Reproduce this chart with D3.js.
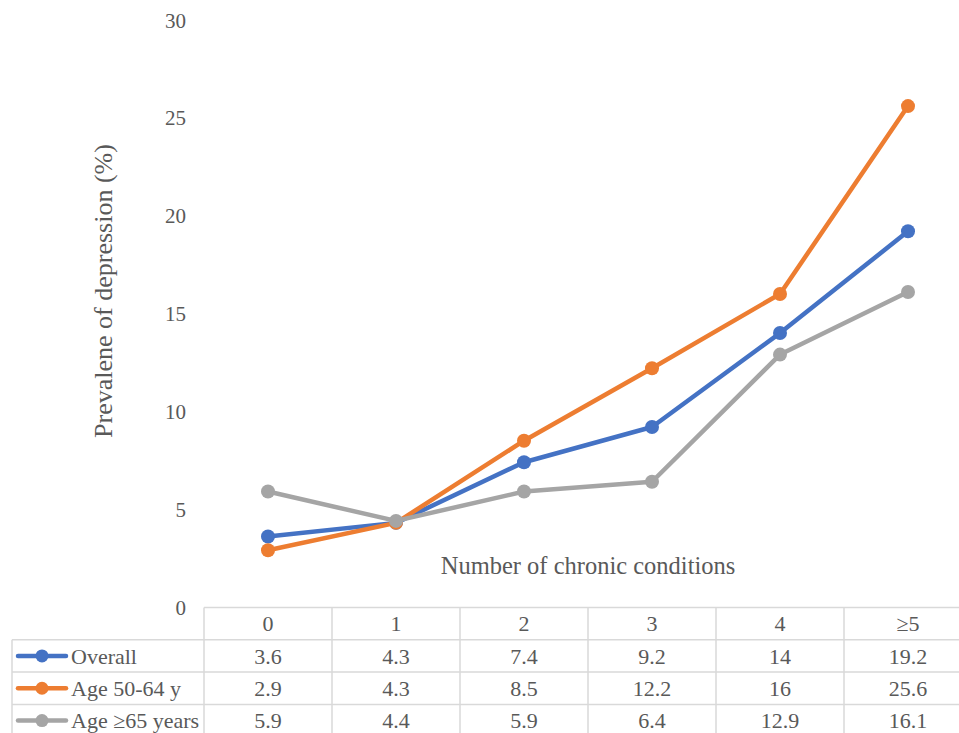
<!DOCTYPE html>
<html>
<head>
<meta charset="utf-8">
<script src="https://cdn.jsdelivr.net/npm/d3@7"></script>
<style>
  html, body { margin: 0; padding: 0; background: #fff; }
  svg { display: block; }
  .lbl { font-family: 'Liberation Serif', 'Times New Roman', serif; fill: #595959; }
</style>
</head>
<body>
<svg id="chart" width="959" height="733"></svg>
<script>
// Categories: number of chronic conditions
const categories = ["0", "1", "2", "3", "4", "\u22655"];

// Prevalence of depression (%) per group
const overall = [3.6, 4.3, 7.4, 9.2, 14, 19.2];
const age5064 = [2.9, 4.3, 8.5, 12.2, 16, 25.6];
const age65plus = [5.9, 4.4, 5.9, 6.4, 12.9, 16.1];

const seriesNames = ["Overall", "Age 50-64 y", "Age \u226565 years"];
const seriesColors = ["#4472C4", "#ED7D31", "#A5A5A5"];
const yTicks = [0, 5, 10, 15, 20, 25, 30];

const series = [overall, age5064, age65plus].map((values, i) => ({
  name: seriesNames[i], color: seriesColors[i], values
}));

const svg = d3.select("#chart");
const gridColor = "#D9D9D9";

// Plot region
const x = d3.scaleBand().domain(categories).range([204, 972]).paddingInner(0).paddingOuter(0);
const y = d3.scaleLinear().domain([0, 30]).range([607, 20]);

// Y axis tick labels (no axis line)
const yAxis = d3.axisLeft(y).tickValues(yTicks).tickSize(0).tickPadding(0);
const yG = svg.append("g").attr("transform", "translate(186,0)").call(yAxis);
yG.select(".domain").remove();
yG.attr("font-family", null).attr("font-size", null);
yG.selectAll("text")
  .attr("class", "lbl").attr("fill", null)
  .style("font-size", "21px")
  .attr("dy", "0.34em");

// Axis titles
svg.append("text")
  .attr("class", "lbl")
  .attr("transform", "translate(112,291) rotate(-90)")
  .attr("text-anchor", "middle")
  .style("font-size", "26px")
  .text("Prevalene of depression (%)");

svg.append("text")
  .attr("class", "lbl")
  .attr("x", 588).attr("y", 574)
  .attr("text-anchor", "middle")
  .style("font-size", "24.5px")
  .text("Number of chronic conditions");

// Data table under the plot
const rowTop = 607.5, rowH = 32.3, tableLeft = 12;
const tableG = svg.append("g");
const nRows = series.length + 1;
const lines = [];
lines.push([x.range()[0], rowTop, x.range()[1], rowTop]);
for (let r = 1; r <= nRows; r++) {
  lines.push([tableLeft, rowTop + r * rowH, x.range()[1], rowTop + r * rowH]);
}
lines.push([tableLeft, rowTop + rowH, tableLeft, rowTop + nRows * rowH]);
categories.forEach(c => lines.push([x(c), rowTop, x(c), rowTop + nRows * rowH]));
tableG.selectAll("line").data(lines).join("line")
  .attr("x1", d => d[0]).attr("y1", d => d[1])
  .attr("x2", d => d[2]).attr("y2", d => d[3])
  .attr("stroke", gridColor).attr("stroke-width", 1.5);

// header row labels
tableG.selectAll("text.cat").data(categories).join("text")
  .attr("class", "lbl cat")
  .attr("x", d => x(d) + x.bandwidth() / 2)
  .attr("y", rowTop + rowH / 2)
  .attr("dy", "0.35em")
  .attr("text-anchor", "middle")
  .style("font-size", "22px")
  .text(d => d);

// series rows with legend keys
series.forEach((s, i) => {
  const cy = rowTop + (i + 1) * rowH + rowH / 2;
  const g = tableG.append("g");
  g.append("line")
    .attr("x1", 18).attr("x2", 66).attr("y1", cy).attr("y2", cy)
    .attr("stroke", s.color).attr("stroke-width", 4.5).attr("stroke-linecap", "round");
  g.append("circle").attr("cx", 42).attr("cy", cy).attr("r", 6.5).attr("fill", s.color);
  g.append("text")
    .attr("class", "lbl")
    .attr("x", 71).attr("y", cy).attr("dy", "0.35em")
    .style("font-size", "22px")
    .text(s.name);
  g.selectAll("text.val").data(s.values).join("text")
    .attr("class", "lbl val")
    .attr("x", (d, j) => x(categories[j]) + x.bandwidth() / 2)
    .attr("y", cy).attr("dy", "0.35em")
    .attr("text-anchor", "middle")
    .style("font-size", "22px")
    .text(d => d);
});

// Lines and markers
const line = d3.line()
  .x((d, j) => x(categories[j]) + x.bandwidth() / 2)
  .y(d => y(d));

series.forEach(s => {
  const g = svg.append("g");
  g.append("path").datum(s.values)
    .attr("d", line)
    .attr("fill", "none").attr("stroke", s.color)
    .attr("stroke-width", 4.5).attr("stroke-linejoin", "round").attr("stroke-linecap", "round");
  g.selectAll("circle").data(s.values).join("circle")
    .attr("cx", (d, j) => x(categories[j]) + x.bandwidth() / 2)
    .attr("cy", d => y(d))
    .attr("r", 7)
    .attr("fill", s.color);
});
</script>
</body>
</html>
